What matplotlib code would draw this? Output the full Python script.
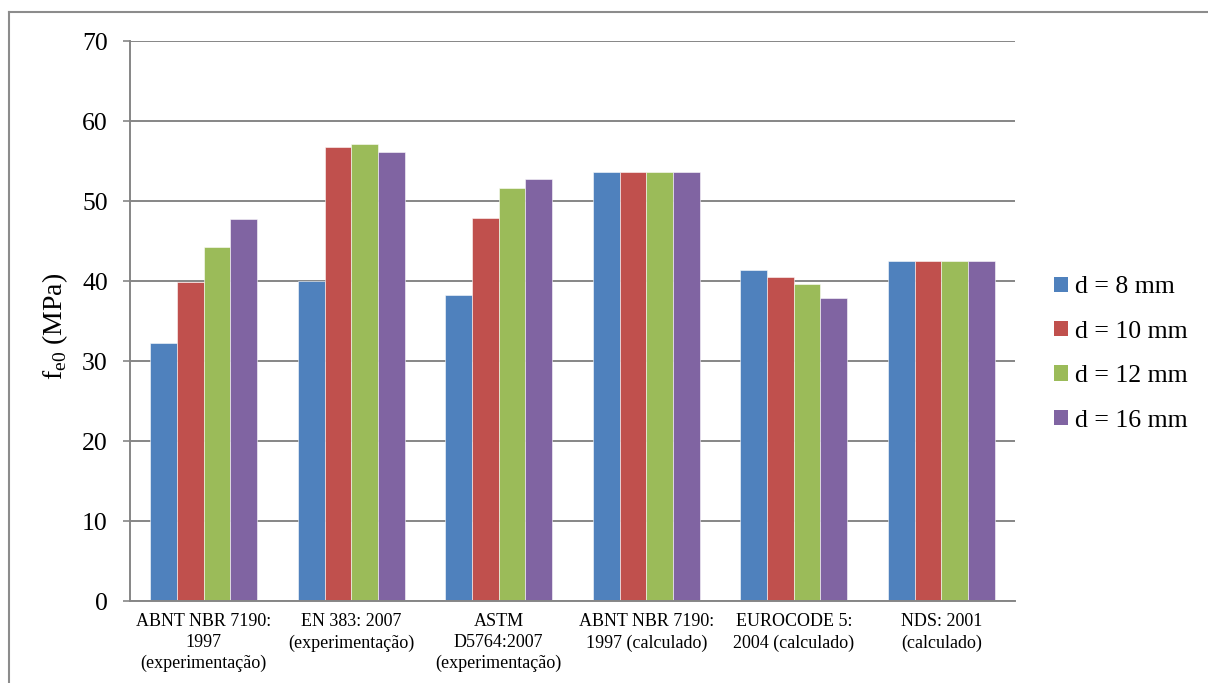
import matplotlib
matplotlib.use("Agg")
import matplotlib.pyplot as plt
from matplotlib.lines import Line2D
from matplotlib.patches import Patch
import numpy as np

categories = [
    "ABNT NBR 7190:\n1997\n(experimentação)",
    "EN 383: 2007\n(experimentação)",
    "ASTM\nD5764:2007\n(experimentação)",
    "ABNT NBR 7190:\n1997 (calculado)",
    "EUROCODE 5:\n2004 (calculado)",
    "NDS: 2001\n(calculado)",
]
series_labels = ["d = 8 mm", "d = 10 mm", "d = 12 mm", "d = 16 mm"]
d8 = [32.3, 40.0, 38.2, 53.6, 41.4, 42.5]
d10 = [39.9, 56.8, 47.9, 53.6, 40.5, 42.5]
d12 = [44.2, 57.1, 51.6, 53.6, 39.6, 42.5]
d16 = [47.8, 56.1, 52.7, 53.6, 37.9, 42.5]
series = [d8, d10, d12, d16]
colors = ["#4F81BD", "#C0504D", "#9BBB59", "#8064A2"]
y_ticks = [0, 10, 20, 30, 40, 50, 60, 70]

plt.rcParams["font.family"] = ["Liberation Serif", "DejaVu Serif"]
plt.rcParams["mathtext.fontset"] = "custom"
plt.rcParams["mathtext.rm"] = "Liberation Serif"

W, H = 1208, 683
fig = plt.figure(figsize=(W / 100, H / 100), dpi=100)
ax = fig.add_axes([130 / W, (H - 601) / H, 885 / W, 560 / H])

grid_col = "#868686"
x = np.arange(len(categories))
bw = 0.181
for i, (vals, col, lab) in enumerate(zip(series, colors, series_labels)):
    offs = (i - 1.5) * bw
    ax.bar(x + offs, vals, width=bw, color=col, label=lab,
           edgecolor=(1, 1, 1, 0.55), linewidth=0.7, zorder=3)

ax.set_xlim(-0.5, len(categories) - 0.5)
ax.set_ylim(0, 70)
ax.set_yticks(y_ticks)
ax.yaxis.grid(True, color=grid_col, linewidth=1.4, zorder=0)
ax.set_axisbelow(True)

for s in ["top", "right"]:
    ax.spines[s].set_visible(False)
for s in ["left", "bottom"]:
    ax.spines[s].set_color(grid_col)
    ax.spines[s].set_linewidth(1.4)
    ax.spines[s].set_zorder(4)

ax.tick_params(axis="y", direction="out", length=5, width=1.2, color=grid_col,
               labelsize=18.5, pad=11)
ax.set_xticks(x)
ax.set_xticklabels(categories, fontsize=13, linespacing=1.28)
ax.tick_params(axis="x", length=0, pad=9)

ax.set_ylabel(r"f$_{\mathregular{e0}}$ (MPa)", fontsize=20)
ax.yaxis.set_label_coords(-0.068, 0.49)

handles = [Patch(facecolor=c, edgecolor="none") for c in colors]
fig.legend(handles, series_labels, loc="center left",
           bbox_to_anchor=(1054 / W, (H - 354) / H), frameon=False,
           fontsize=18.5, handlelength=0.55, handleheight=0.55,
           handletextpad=0.25, labelspacing=0.87, borderpad=0, borderaxespad=0)

# outer frame lines
fig.add_artist(Line2D([8.5 / W, 1.0], [1 - 12 / H, 1 - 12 / H],
                      transform=fig.transFigure, color="#8c8c8c", linewidth=1.5))
fig.add_artist(Line2D([8.5 / W, 8.5 / W], [0.0, 1 - 12 / H],
                      transform=fig.transFigure, color="#8c8c8c", linewidth=1.5))

fig.savefig("out.png", dpi=100, facecolor="white")
